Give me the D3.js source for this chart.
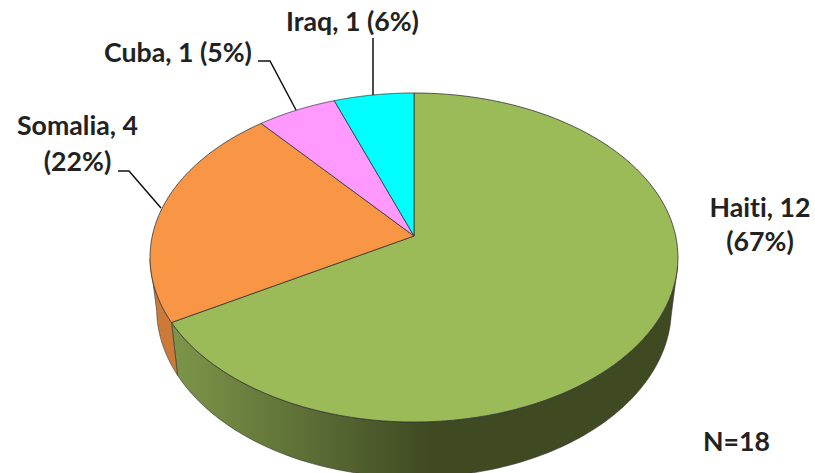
<!DOCTYPE html>
<html>
<head>
<meta charset="utf-8">
<script src="https://cdn.jsdelivr.net/npm/d3@7"></script>
<style>
  html, body { margin: 0; padding: 0; background: #fff; }
  text { font-family: Lato, "Open Sans", sans-serif; font-weight: bold; fill: #222; font-size: 26.7px; font-variant-ligatures: none; }
</style>
</head>
<body>
<svg id="chart" width="815" height="473"></svg>
<script>
// ---------- Data ----------
const countries = ["Haiti", "Somalia", "Cuba", "Iraq"];
const counts = [12, 4, 1, 1];
const percents = [67, 22, 5, 6];
const sampleSize = 18;
const sliceColors = ["#9BBB59", "#F99646", "#FF99FF", "#00FFFF"];
const sideColors = ["#3F4A23", "#CC7A38"];

// ---------- Geometry ----------
const apex = { x: 414, y: 236 };
const tilt = 0.1307;
const scaleX = 261.7;
const scaleY = 161.7;
const depth = 50.6;
const bottomX = 0.975;
const bottomY = 1.025;

// Perspective projection of a point on the pie's rim
function project(angle, drop = 0, sx = 1, sy = 1) {
  const u = Math.sin(angle);
  const v = -Math.cos(angle);
  const w = 1 - tilt * v;
  return [
    apex.x + (scaleX * sx * u) / w,
    apex.y + drop + (scaleY * sy * v) / w,
  ];
}

const rimLine = d3.line();

function rimPoints(a0, a1, drop, sx, sy) {
  return d3.range(0, 121).map((i) => project(a0 + ((a1 - a0) * i) / 120, drop, sx, sy));
}

const svg = d3.select("#chart");
const arcs = d3.pie().sort(null)(counts);

// Gradient on the dark green wall
const defs = svg.append("defs");
const wallGrad = defs
  .append("linearGradient")
  .attr("id", "wall")
  .attr("gradientUnits", "userSpaceOnUse")
  .attr("x1", 175)
  .attr("x2", 430)
  .attr("y1", 0)
  .attr("y2", 0);
wallGrad.append("stop").attr("offset", 0).attr("stop-color", "#7C9549");
wallGrad.append("stop").attr("offset", 1).attr("stop-color", sideColors[0]);

// ---------- Walls ----------
function wall(a0, a1, fill) {
  const top = rimPoints(a0, a1, 0, 1, 1);
  const bottom = rimPoints(a1, a0, depth, bottomX, bottomY);
  svg
    .append("path")
    .attr("d", rimLine(top.concat(bottom)) + "Z")
    .attr("fill", fill)
    .attr("stroke", "#333")
    .attr("stroke-width", 0.6);
}

wall(1.75, arcs[0].endAngle, "url(#wall)");
wall(arcs[1].startAngle, 4.57, sideColors[1]);

// ---------- Top face ----------
arcs.forEach((d, i) => {
  svg
    .append("path")
    .attr("d", rimLine([[apex.x, apex.y]].concat(rimPoints(d.startAngle, d.endAngle, 0, 1, 1))) + "Z")
    .attr("fill", sliceColors[i])
    .attr("stroke", "#333")
    .attr("stroke-width", 0.8)
    .attr("stroke-linejoin", "round");
});

// ---------- Leader lines ----------
const leaders = [
  [[161, 208], [129, 171], [118, 171]],
  [[296, 110], [270, 61], [258, 61]],
  [[373, 95], [373, 38]],
];
leaders.forEach((pts) => {
  svg
    .append("path")
    .attr("d", rimLine(pts))
    .attr("fill", "none")
    .attr("stroke", "#111")
    .attr("stroke-width", 1.5);
});

// ---------- Labels ----------
const labels = [
  { x: 760, y: [217, 251], lines: [`${countries[0]}, ${counts[0]}`, `(${percents[0]}%)`] },
  { x: 77.5, y: [135, 171], lines: [`${countries[1]}, ${counts[1]}`, `(${percents[1]}%)`] },
  { x: 178, y: [62], lines: [`${countries[2]}, ${counts[2]} (${percents[2]}%)`] },
  { x: 352.5, y: [31], lines: [`${countries[3]}, ${counts[3]} (${percents[3]}%)`] },
];
labels.forEach((l) => {
  l.lines.forEach((line, j) => {
    svg
      .append("text")
      .attr("x", l.x)
      .attr("y", l.y[j])
      .attr("text-anchor", "middle")
      .text(line);
  });
});

svg
  .append("text")
  .attr("x", 736.5)
  .attr("y", 450.5)
  .attr("text-anchor", "middle")
  .text(`N=${sampleSize}`);
</script>
</body>
</html>
